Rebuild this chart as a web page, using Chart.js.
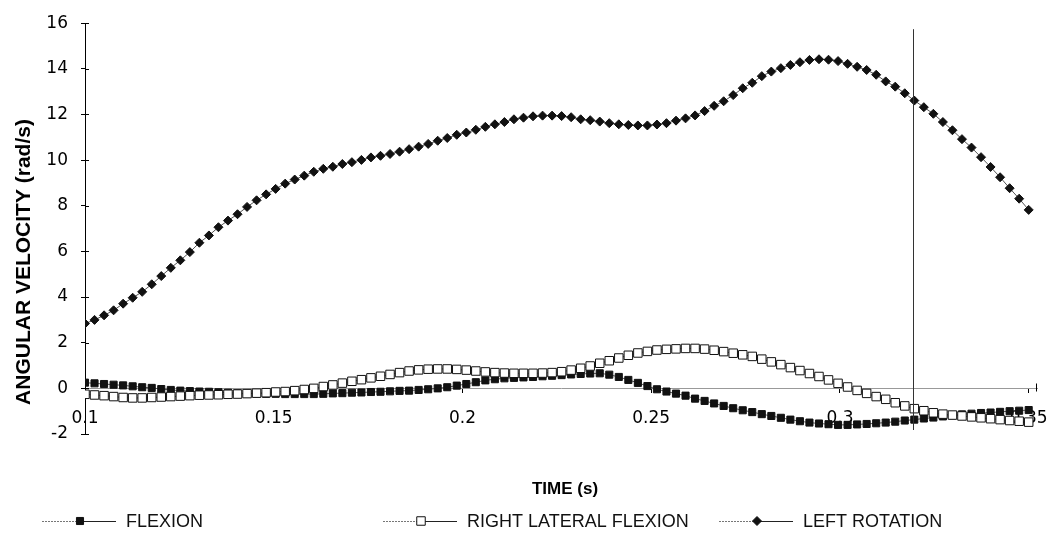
<!DOCTYPE html>
<html>
<head>
<meta charset="utf-8">
<script src="https://cdn.jsdelivr.net/npm/chart.js@4.4.1/dist/chart.umd.min.js"></script>
<style>
  html, body { margin: 0; padding: 0; background: #fff; }
  #wrap { width: 1064px; height: 547px; position: relative; }
</style>
</head>
<body>
<div id="wrap"><canvas id="velChart"></canvas></div>
<script>
// recording window (s), samples are evenly spaced over it
const tStart = 0.1;
const tEnd = 0.35;

// angular velocity (rad/s)
const flexion = [
  0.25, 0.22, 0.19, 0.16, 0.13, 0.09, 0.05, 0.02, -0.03, -0.07,
  -0.10, -0.12, -0.14, -0.15, -0.17, -0.19, -0.21, -0.22, -0.23, -0.24,
  -0.24, -0.25, -0.25, -0.25, -0.25, -0.24, -0.22, -0.21, -0.19, -0.18,
  -0.16, -0.15, -0.13, -0.11, -0.10, -0.07, -0.04, 0.00, 0.05, 0.12,
  0.19, 0.27, 0.35, 0.40, 0.44, 0.46, 0.48, 0.50, 0.53, 0.55,
  0.58, 0.61, 0.63, 0.65, 0.66, 0.60, 0.50, 0.37, 0.24, 0.10,
  -0.04, -0.14, -0.23, -0.32, -0.45, -0.55, -0.66, -0.77, -0.87, -0.96,
  -1.04, -1.13, -1.21, -1.29, -1.37, -1.44, -1.50, -1.54, -1.57, -1.60,
  -1.60, -1.58, -1.56, -1.53, -1.50, -1.46, -1.41, -1.37, -1.32, -1.28,
  -1.23, -1.18, -1.14, -1.11, -1.08, -1.06, -1.03, -1.00, -0.98, -0.95
];
const rightLatFlexion = [
  -0.26, -0.29, -0.32, -0.36, -0.40, -0.42, -0.42, -0.40, -0.38, -0.36,
  -0.34, -0.32, -0.30, -0.29, -0.28, -0.26, -0.25, -0.23, -0.21, -0.19,
  -0.16, -0.14, -0.10, -0.05, 0.00, 0.08, 0.15, 0.23, 0.31, 0.38,
  0.46, 0.53, 0.61, 0.69, 0.76, 0.81, 0.84, 0.85, 0.85, 0.83,
  0.80, 0.76, 0.72, 0.69, 0.67, 0.66, 0.66, 0.66, 0.67, 0.69,
  0.73, 0.80, 0.88, 0.98, 1.10, 1.21, 1.33, 1.45, 1.55, 1.62,
  1.68, 1.71, 1.73, 1.75, 1.75, 1.72, 1.67, 1.61, 1.54, 1.47,
  1.40, 1.28, 1.16, 1.04, 0.91, 0.78, 0.65, 0.52, 0.37, 0.22,
  0.06, -0.09, -0.22, -0.36, -0.48, -0.63, -0.77, -0.89, -0.98, -1.07,
  -1.13, -1.17, -1.21, -1.25, -1.29, -1.33, -1.37, -1.41, -1.44, -1.48
];
const leftRotation = [
  2.84, 3.00, 3.20, 3.42, 3.71, 3.97, 4.23, 4.56, 4.92, 5.28,
  5.61, 5.97, 6.38, 6.70, 7.06, 7.35, 7.63, 7.95, 8.24, 8.50,
  8.74, 8.97, 9.15, 9.32, 9.49, 9.62, 9.71, 9.83, 9.91, 10.01,
  10.12, 10.19, 10.27, 10.37, 10.48, 10.59, 10.71, 10.85, 10.97, 11.11,
  11.21, 11.33, 11.46, 11.57, 11.67, 11.79, 11.86, 11.92, 11.95, 11.95,
  11.93, 11.88, 11.79, 11.75, 11.69, 11.62, 11.57, 11.54, 11.52, 11.52,
  11.56, 11.62, 11.73, 11.83, 11.96, 12.15, 12.38, 12.58, 12.85, 13.15,
  13.39, 13.68, 13.88, 14.03, 14.17, 14.29, 14.39, 14.42, 14.40, 14.34,
  14.22, 14.09, 13.95, 13.74, 13.45, 13.22, 12.93, 12.61, 12.32, 12.03,
  11.67, 11.31, 10.92, 10.55, 10.13, 9.70, 9.25, 8.77, 8.31, 7.82
];

const seriesNames = ['FLEXION', 'RIGHT LATERAL FLEXION', 'LEFT ROTATION'];
const xTickValues = [0.1, 0.15, 0.2, 0.25, 0.3, 0.35];
const xTickLabels = ['0.1', '0.15', '0.2', '0.25', '0.3', '0.35'];
const yMin = -2, yMax = 16, yStep = 2;
const markerTime = 0.3193; // vertical reference line

const times = flexion.map((_, i) => tStart + i * (tEnd - tStart) / (flexion.length - 1));
const toPoints = arr => arr.map((v, i) => ({ x: times[i], y: v }));

// marker looks per series (legend uses the same)
const looks = [
  { style: 'rect', radius: 5, fill: '#111', stroke: '#111' },
  { style: 'rect', radius: 6, fill: '#fff', stroke: '#111' },
  { style: 'rectRot', radius: 4.5, fill: '#111', stroke: '#111' }
];

function drawMarker(ctx, look, x, y) {
  ctx.save();
  ctx.fillStyle = look.fill;
  ctx.strokeStyle = look.stroke;
  ctx.lineWidth = 1;
  ctx.beginPath();
  if (look.style === 'rect') {
    const s = look.radius * Math.SQRT1_2;
    ctx.rect(x - s, y - s, 2 * s, 2 * s);
  } else {
    const r = look.radius;
    ctx.moveTo(x - r, y); ctx.lineTo(x, y - r); ctx.lineTo(x + r, y); ctx.lineTo(x, y + r);
    ctx.closePath();
  }
  ctx.fill();
  ctx.stroke();
  ctx.restore();
}

// titles, legend, reference line and the small tick marks
const extras = {
  id: 'extras',
  afterDraw(chart) {
    const ctx = chart.ctx;
    const xs = chart.scales.x, ys = chart.scales.y;
    const area = chart.chartArea;

    ctx.save();
    // vertical reference line
    const vx = Math.round(xs.getPixelForValue(markerTime)) + 0.5;
    ctx.strokeStyle = '#333';
    ctx.lineWidth = 1;
    ctx.beginPath();
    ctx.moveTo(vx, area.top + 6);
    ctx.lineTo(vx, area.bottom - 4);
    ctx.stroke();

    // y ticks cross the axis
    ctx.strokeStyle = '#000';
    ys.ticks.forEach(t => {
      const py = Math.round(ys.getPixelForValue(t.value)) + 0.5;
      ctx.beginPath();
      ctx.moveTo(area.left, py);
      ctx.lineTo(area.left + 4, py);
      ctx.stroke();
    });
    // small end mark on x axis
    const y0 = Math.round(ys.getPixelForValue(0)) + 0.5;
    ctx.beginPath();
    ctx.moveTo(area.right - 0.5, y0 - 5);
    ctx.lineTo(area.right - 0.5, y0 + 3);
    ctx.stroke();

    // axis titles
    ctx.fillStyle = '#000';
    ctx.textAlign = 'center';
    ctx.textBaseline = 'middle';
    ctx.font = 'bold 17px "Liberation Sans", Arial, sans-serif';
    ctx.fillText('TIME (s)', 565, 489);

    ctx.save();
    ctx.translate(24, 262);
    ctx.rotate(-Math.PI / 2);
    ctx.font = 'bold 21px "Liberation Sans", Arial, sans-serif';
    ctx.fillText('ANGULAR VELOCITY (rad/s)', 0, 0);
    ctx.restore();

    // legend
    const ly = 521;
    const legendX = [42, 383, 719];
    ctx.font = '18px "Liberation Sans", Arial, sans-serif';
    ctx.textAlign = 'left';
    seriesNames.forEach((name, i) => {
      const x1 = legendX[i], x2 = x1 + 74, mid = x1 + 38;
      ctx.strokeStyle = '#777';
      ctx.setLineDash([2, 1]);
      ctx.beginPath(); ctx.moveTo(x1, ly + 0.5); ctx.lineTo(mid, ly + 0.5); ctx.stroke();
      ctx.setLineDash([]);
      ctx.strokeStyle = '#222';
      ctx.beginPath(); ctx.moveTo(mid, ly + 0.5); ctx.lineTo(x2, ly + 0.5); ctx.stroke();
      drawMarker(ctx, looks[i], mid, ly);
      ctx.fillStyle = '#111';
      ctx.fillText(name, x2 + 10, ly + 1);
    });
    ctx.restore();
  }
};

const seriesData = [flexion, rightLatFlexion, leftRotation];
const datasets = seriesData.map((arr, i) => ({
  label: seriesNames[i],
  data: toPoints(arr),
  borderColor: '#555',
  borderWidth: 1,
  pointStyle: looks[i].style,
  pointRadius: looks[i].radius,
  pointBackgroundColor: looks[i].fill,
  pointBorderColor: looks[i].stroke,
  pointBorderWidth: 1,
  tension: 0,
  order: [2, 1, 3][i]
}));

const tickFont = { family: '"DejaVu Sans", sans-serif', size: 17 };

new Chart(document.getElementById('velChart'), {
  type: 'line',
  data: { datasets: datasets },
  options: {
    responsive: true,
    maintainAspectRatio: false,
    animation: false,
    layout: { padding: { top: 18, right: 27, bottom: 113, left: 0 } },
    plugins: { legend: { display: false }, tooltip: { enabled: false } },
    scales: {
      x: {
        type: 'linear',
        position: { y: 0 },
        min: tStart,
        max: 0.3522,
        afterBuildTicks: scale => { scale.ticks = xTickValues.map(v => ({ value: v })); },
        afterFit: scale => { scale.height = 0; },
        ticks: {
          callback: (v, i) => xTickLabels[i],
          autoSkip: false,
          maxRotation: 0,
          padding: 16,
          color: '#000',
          font: tickFont
        },
        grid: { drawOnChartArea: false, drawTicks: true, tickLength: 4, color: '#000' },
        border: { display: true, color: '#999', width: 1 }
      },
      y: {
        min: yMin,
        max: yMax,
        afterFit: scale => { scale.width = 85; },
        ticks: { stepSize: yStep, padding: 13, color: '#000', font: tickFont },
        grid: { drawOnChartArea: false, drawTicks: true, tickLength: 4, color: '#000' },
        border: { display: true, color: '#000', width: 1 }
      }
    }
  },
  plugins: [extras]
});
</script>
</body>
</html>
